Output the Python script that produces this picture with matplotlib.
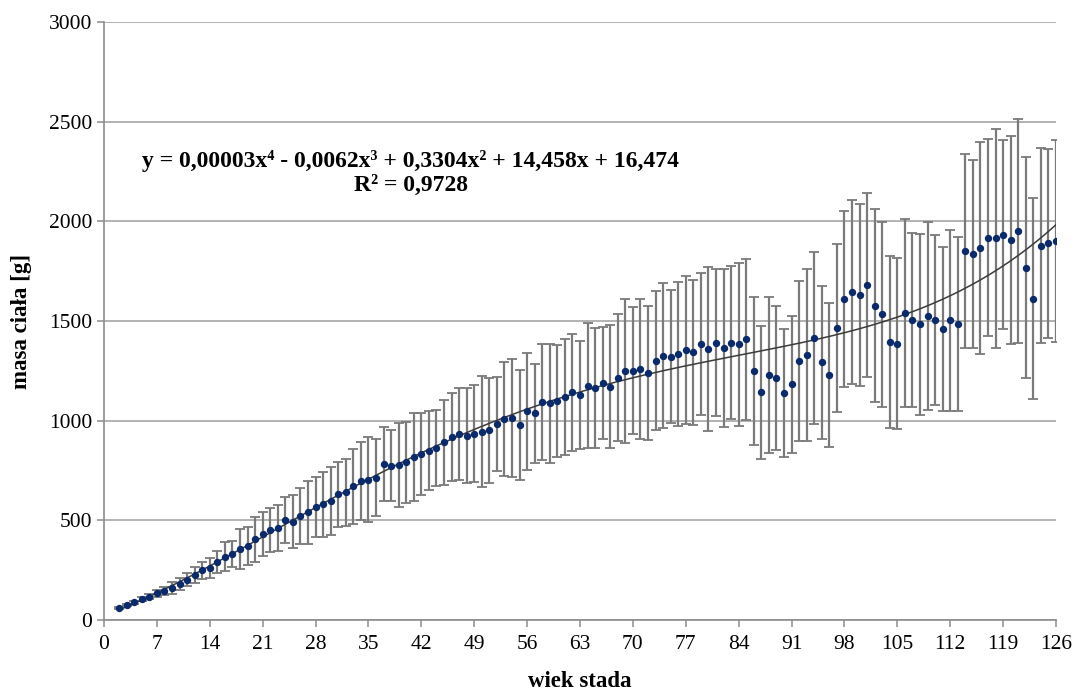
import numpy as np
import matplotlib
matplotlib.use("Agg")
import matplotlib.pyplot as plt

# wiek stada (dni)
dni = np.arange(2, 127)

# srednia masa ciala [g]
masa = [59, 75, 89, 104, 117, 134, 147, 162, 181, 202, 226, 249, 262, 289, 318, 331, 358, 373, 406, 430, 452,
        463, 500, 493, 523, 540, 567, 580, 597, 630, 641, 671, 699, 704, 714, 784, 774, 778, 791, 819, 834,
        849, 863, 891, 918, 933, 925, 935, 945, 952, 982, 1010, 1013, 980, 1047, 1037, 1094, 1087, 1099, 1119, 1142, 1130,
        1176, 1162, 1187, 1171, 1216, 1249, 1251, 1261, 1238, 1301, 1326, 1321, 1335, 1355, 1343, 1385, 1358, 1391, 1363, 1391,
        1383, 1408, 1249, 1142, 1228, 1214, 1140, 1182, 1299, 1330, 1413, 1293, 1229, 1465, 1610, 1646, 1630, 1681, 1577, 1534, 1395, 1386,
        1540, 1505, 1483, 1527, 1507, 1460, 1505, 1485, 1851, 1836, 1868, 1917, 1915, 1933, 1905, 1953, 1768, 1612, 1878, 1890, 1903]

# odchylenie standardowe [g]
odchylenie = [5, 6, 8, 10, 12, 18, 20, 30, 28, 32, 40, 42, 50, 55, 73, 67, 100, 95, 113, 110, 112,
              115, 115, 132, 140, 158, 150, 164, 169, 164, 168, 188, 196, 212, 192, 185, 177, 210, 203, 222, 205,
              198, 191, 212, 219, 230, 238, 244, 278, 263, 236, 287, 297, 276, 293, 247, 293, 298, 283, 292, 293, 270,
              313, 301, 281, 309, 320, 360, 318, 351, 337, 348, 364, 333, 362, 370, 365, 356, 411, 368, 396, 383,
              408, 403, 372, 333, 391, 361, 322, 345, 403, 430, 431, 385, 363, 420, 441, 462, 457, 462, 483, 464, 430, 428,
              472, 437, 453, 471, 427, 410, 454, 436, 487, 472, 532, 494, 548, 475, 522, 562, 553, 504, 490, 475, 506]

x_ticks = list(range(0, 127, 7))
y_ticks = list(range(0, 3001, 500))

serif = ['Liberation Serif', 'DejaVu Serif']

fig = plt.figure(figsize=(10.75, 6.9), dpi=100)
ax = fig.add_axes([0.0967, 0.1014, 0.8856, 0.8666])

eb = ax.errorbar(dni, masa, yerr=odchylenie, fmt='none', ecolor='#7a7a7a',
                 elinewidth=1.6, capsize=3.5, capthick=1.3, zorder=2)
for cap in eb[1]:
    cap.set_color('#3a3a3a')

# linia trendu - wielomian 4 stopnia
wsp = np.polyfit(dni, masa, 4)
xs = np.linspace(2, 126, 300)
ax.plot(xs, np.polyval(wsp, xs), color='#3c3c3c', lw=1.1, zorder=3)

ax.plot(dni, masa, 'o', color='#0b2a6b', markersize=4.3, zorder=4)

ax.set_xlim(0, 126)
ax.set_ylim(0, 3000)
ax.set_xticks(x_ticks)
ax.set_yticks(y_ticks)
ax.yaxis.grid(True, color='#a6a6a6', lw=1.2)
ax.set_axisbelow(True)
for s in ['top', 'right']:
    ax.spines[s].set_visible(False)
for s in ['left', 'bottom']:
    ax.spines[s].set_color('#8c8c8c')
    ax.spines[s].set_linewidth(1.2)
ax.tick_params(axis='both', direction='out', length=5, color='#8c8c8c', width=1.1, labelsize=15.5)
ax.tick_params(axis='x', pad=6)
for lab in ax.get_xticklabels() + ax.get_yticklabels():
    lab.set_family(serif)

ax.set_xlabel('wiek stada', family=serif, fontweight='bold', fontsize=16.5, labelpad=12)
ax.set_ylabel('masa ciała [g]', family=serif, fontweight='bold', fontsize=16.5, labelpad=12)

ax.text(0.3225, 0.748, 'y = 0,00003x⁴ - 0,0062x³ + 0,3304x² + 14,458x + 16,474\nR² = 0,9728',
        transform=ax.transAxes, ha='center', va='center', family=serif,
        fontweight='bold', fontsize=17, linespacing=1.15)

fig.savefig('out.png', dpi=100)
